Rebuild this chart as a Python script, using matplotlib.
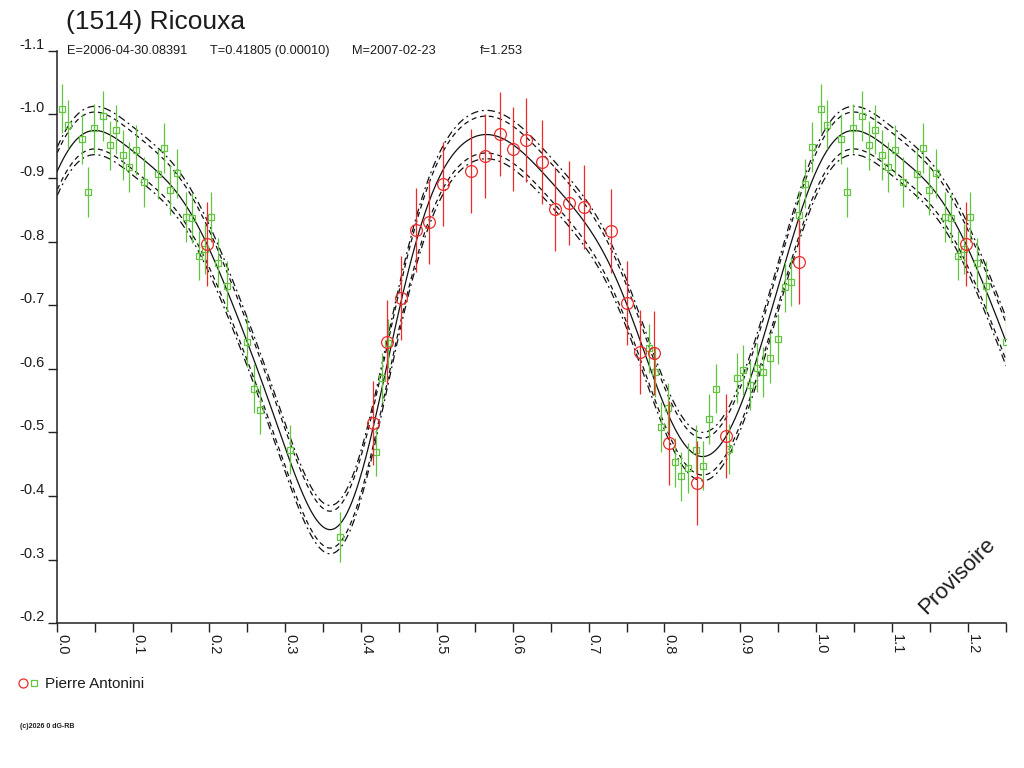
import numpy as np
import matplotlib
matplotlib.use('Agg')
import matplotlib.pyplot as plt
from matplotlib import font_manager, transforms
from matplotlib.lines import Line2D

# police etroite pour la ligne d'elements si elle existe, sinon Liberation Sans
names = {f.name for f in font_manager.fontManager.ttflist}
HAS_NARROW = 'Liberation Sans Narrow' in names
NARROW = 'Liberation Sans Narrow' if HAS_NARROW else 'Liberation Sans'
plt.rcParams['font.family'] = ['Liberation Sans', 'DejaVu Sans']

TXT = '#1c1c1c'
GREEN = '#62c440'
RED = '#ee2a2a'

title = "(1514) Ricouxa"
elements = ["E=2006-04-30.08391", "T=0.41805 (0.00010)", "M=2007-02-23", "f=1.253"]
observer = "Pierre Antonini"

# courbe moyenne, phases 0 .. 0.975 par pas de 0.025
curve_phase = np.arange(40) * 0.025
curve_mag = [-0.928, -0.955, -0.968, -0.965, -0.946, -0.918, -0.886, -0.843,
             -0.790, -0.723, -0.643, -0.557, -0.476, -0.405, -0.350, -0.358,
             -0.432, -0.556, -0.690, -0.812, -0.888, -0.942, -0.968, -0.967,
             -0.951, -0.926, -0.895, -0.862, -0.822, -0.770, -0.700, -0.622,
             -0.545, -0.484, -0.458, -0.480, -0.548, -0.632, -0.722, -0.822]
inner_offset = 0.029   # enveloppe tiretee
outer_offset = 0.038   # enveloppe tiret-point

# carres verts
g_phase = [0.0058, 0.0145, 0.032, 0.041, 0.049, 0.0597, 0.0693, 0.0776, 0.0864,
           0.0947, 0.1036, 0.1145, 0.1325, 0.1408, 0.149, 0.158, 0.169, 0.1777,
           0.1864, 0.195, 0.203, 0.212, 0.224, 0.2496, 0.2588, 0.267, 0.3066,
           0.373, 0.42, 0.4277, 0.436, 0.779, 0.7877, 0.796, 0.8049, 0.8137,
           0.822, 0.8316, 0.842, 0.851, 0.8593, 0.868, 0.885, 0.895, 0.904,
           0.9128, 0.9216, 0.9303, 0.939, 0.9496, 0.9588, 0.967, 0.9772,
           0.9855, 0.9939]
g_mag = [-1.009, -0.984, -0.961, -0.878, -0.978, -0.997, -0.951, -0.976, -0.936,
         -0.917, -0.944, -0.894, -0.906, -0.947, -0.881, -0.907, -0.839, -0.837,
         -0.778, -0.788, -0.839, -0.767, -0.730, -0.642, -0.569, -0.536, -0.473,
         -0.336, -0.470, -0.586, -0.640, -0.632, -0.595, -0.509, -0.539, -0.453,
         -0.431, -0.444, -0.473, -0.448, -0.521, -0.569, -0.474, -0.586, -0.598,
         -0.574, -0.602, -0.595, -0.617, -0.647, -0.729, -0.737, -0.841,
         -0.891, -0.949]
g_err = [0.039] * len(g_mag)

# cercles rouges
r_phase = [0.197, 0.4163, 0.4347, 0.4522, 0.472, 0.490, 0.5078, 0.5447, 0.5635,
           0.5832, 0.6005, 0.618, 0.638, 0.656, 0.674, 0.6943, 0.730, 0.7505,
           0.7676, 0.786, 0.806, 0.8426, 0.8807, 0.9768]
r_mag = [-0.796, -0.515, -0.642, -0.711, -0.818, -0.831, -0.890, -0.911, -0.934,
         -0.969, -0.946, -0.960, -0.925, -0.851, -0.861, -0.854, -0.816, -0.703,
         -0.626, -0.625, -0.484, -0.420, -0.494, -0.768]
r_err = [0.066] * len(r_mag)

y_ticks = [-1.1, -1.0, -0.9, -0.8, -0.7, -0.6, -0.5, -0.4, -0.3, -0.2]
x_ticks = [0.0, 0.1, 0.2, 0.3, 0.4, 0.5, 0.6, 0.7, 0.8, 0.9, 1.0, 1.1, 1.2]
XMAX = 1.25


def fourier_smooth(ph, vals, x, order=8):
    ph = np.asarray(ph)
    cols = lambda p: np.column_stack([np.ones_like(p)] +
                                     [f(2 * np.pi * k * p) for k in range(1, order + 1)
                                      for f in (np.cos, np.sin)])
    coef, *_ = np.linalg.lstsq(cols(ph), np.asarray(vals), rcond=None)
    return cols(x) @ coef


def fold(ph, mag, err):
    # repete le debut de la periode au-dela de 1
    ph = np.asarray(ph); mag = np.asarray(mag); err = np.asarray(err)
    m = ph + 1 <= XMAX
    return (np.concatenate([ph, ph[m] + 1]), np.concatenate([mag, mag[m]]),
            np.concatenate([err, err[m]]))


fig = plt.figure(figsize=(10.24, 7.68), dpi=100)
ax = fig.add_axes([57.3 / 1024, 1 - 623.3 / 768, (1006 - 57.3) / 1024, 572.6 / 768])

xx = np.linspace(0, XMAX, 800)
center = fourier_smooth(curve_phase, curve_mag, xx)
ax.plot(xx, center, color='#111111', lw=0.9)
for s in (-1, 1):
    ax.plot(xx, center + s * inner_offset, color='#111111', lw=0.9, dashes=(4, 3))
    ax.plot(xx, center + s * outer_offset, color='#111111', lw=0.9, dashes=(6, 3, 1.5, 3))

gp, gm, ge = fold(g_phase, g_mag, g_err)
rp, rm, re_ = fold(r_phase, r_mag, r_err)
ax.errorbar(gp, gm, yerr=ge, fmt='none', ecolor=GREEN, elinewidth=0.9)
ax.plot(gp, gm, 's', ms=5, mfc='none', mec=GREEN, mew=0.9)
ax.errorbar(rp, rm, yerr=re_, fmt='none', ecolor=RED, elinewidth=0.9)
ax.plot(rp, rm, 'o', ms=8.5, mfc='none', mec=RED, mew=0.9)

ax.set_xlim(0, XMAX)
ax.set_ylim(-0.2, -1.1)
for sp in ('top', 'right'):
    ax.spines[sp].set_visible(False)
for sp in ('left', 'bottom'):
    ax.spines[sp].set_linewidth(1.1)
    ax.spines[sp].set_color('#222222')

ax.set_xticks(x_ticks)
ax.set_xticks(np.arange(1, 26) * 0.05, minor=True)
ax.set_yticks(y_ticks)
ax.tick_params(axis='both', which='both', direction='out', length=6.5, width=1,
               color='#222222', labelleft=False, labelbottom=False)
ax.tick_params(axis='y', which='minor', left=False)

ytr = transforms.offset_copy(ax.get_yaxis_transform(), fig, x=-12.5, y=2, units='dots')
for v in y_ticks:
    ax.text(0, v, f"{v:.1f}", transform=ytr, ha='right', va='baseline',
            fontsize=10.5, color=TXT, clip_on=False)
xtr = transforms.offset_copy(ax.get_xaxis_transform(), fig, x=-2, y=-11, units='dots')
for v in x_ticks:
    ax.text(v, 0, f"{v:.1f}", transform=xtr, ha='left', va='top', rotation=-90,
            fontsize=10.5, color=TXT, clip_on=False)

fig.text(66 / 1024, 1 - 29.5 / 768, title, fontsize=19, color=TXT, va='baseline')
sub_size = 11 if HAS_NARROW else 9.2
for xpix, s in zip([66.7, 210, 351.7, 480], elements):
    fig.text(xpix / 1024, 1 - 54 / 768, s, fontsize=sub_size, color=TXT, va='baseline',
             family=[NARROW, 'DejaVu Sans'])

fig.text(957 / 1024, 1 - 576 / 768, "Provisoire", fontsize=16, color=TXT,
         rotation=45, ha='center', va='center')

# legende
fig.add_artist(Line2D([23 / 1024], [1 - 683.3 / 768], marker='o', ms=6.5, mfc='none',
                      mec=RED, mew=0.9, transform=fig.transFigure))
fig.add_artist(Line2D([34.3 / 1024], [1 - 683.3 / 768], marker='s', ms=4.8, mfc='none',
                      mec=GREEN, mew=0.9, transform=fig.transFigure))
fig.text(45 / 1024, 1 - 688 / 768, observer, fontsize=11, color=TXT, va='baseline')
fig.text(20 / 1024, 1 - 728 / 768, "(c)2026 0 dG-RB", fontsize=5, color=TXT,
         weight='bold', va='baseline')

fig.savefig('out.png', dpi=100, facecolor='white')
